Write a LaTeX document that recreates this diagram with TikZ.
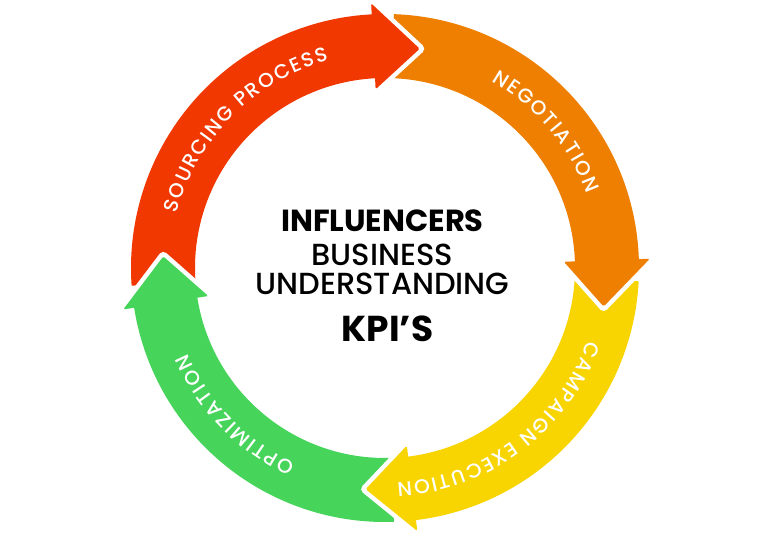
\documentclass[tikz,border=0pt]{standalone}
\usepackage{fontspec}
\setmainfont{Poppins}
\newfontfamily\kpimedium{Poppins}[UprightFont=* Medium]
\definecolor{cred}{RGB}{240,56,0}
\definecolor{corange}{RGB}{239,127,0}
\definecolor{cyellow}{RGB}{248,212,0}
\definecolor{cgreen}{RGB}{70,212,90}
\newcommand\kpiRo{254}
\newcommand\kpiRi{190}
\newcommand\kpiband[3]{\fill[#1] (#2:\kpiRo) arc[start angle=#2, end angle=#3, radius=\kpiRo] -- (#3:\kpiRi) arc[start angle=#3, end angle=#2, radius=\kpiRi] -- cycle;}
\newcommand\kpihead[3]{%
  \draw[white, line width=9, line join=round, line cap=round] (#2:265) -- (#3:222) -- (#2:179);
  \fill[#1, rounded corners=1.5] (#2:265) -- (#3:222) -- (#2:179) -- cycle;}
\newcommand\kpilblfont{\kpimedium\fontsize{20}{20}\selectfont}
\newdimen\kpiw
\newbox\kpibox
\def\kpiplus{+}
% measure a glyph width outside the picture, store it as a plain number
\newcommand\kpimeasure[2]{%
  \setbox\kpibox\hbox{\kpilblfont #2}\kpiw=\wd\kpibox
  \pgfmathsetmacro\kpitmpw{\kpiw}%
  \expandafter\xdef\csname kpiW#1\endcsname{\kpitmpw}}
% #1 centre angle, #2 baseline radius, #3 extra letter spacing, #4 letters (+ = space)
\newcommand\kpiarc[4]{%
  \xdef\kpitot{0}%
  \foreach \kpich in {#4}{%
    \expandafter\let\expandafter\kpicw\csname kpiW\kpich\endcsname
    \pgfmathsetmacro\kpitmp{\kpitot+\kpicw+#3}%
    \xdef\kpitot{\kpitmp}}%
  \pgfmathsetmacro\kpitmp{-(\kpitot-#3)/2}%
  \xdef\kpicur{\kpitmp}%
  \foreach \kpich in {#4}{%
    \expandafter\let\expandafter\kpicw\csname kpiW\kpich\endcsname
    \pgfmathsetmacro\kpimid{\kpicur+0.5*\kpicw}%
    \pgfmathsetmacro\kpiang{#1-(\kpimid)/#2*57.29578}%
    \ifx\kpich\kpiplus\else
      \node[arcletter, rotate=\kpiang-90] at (\kpiang:#2) {\kpich};
    \fi
    \pgfmathsetmacro\kpitmp{\kpicur+\kpicw+#3}%
    \xdef\kpicur{\kpitmp}}%
}
\tikzset{
  arcletter/.style={anchor=base, inner sep=0pt, text=white, font=\kpilblfont},
  centertext/.style={inner sep=0pt, text=black}
}
\begin{document}
\kpimeasure{A}{A}\kpimeasure{C}{C}\kpimeasure{E}{E}\kpimeasure{G}{G}%
\kpimeasure{I}{I}\kpimeasure{M}{M}\kpimeasure{N}{N}\kpimeasure{O}{O}%
\kpimeasure{P}{P}\kpimeasure{R}{R}\kpimeasure{S}{S}\kpimeasure{T}{T}%
\kpimeasure{U}{U}\kpimeasure{X}{X}\kpimeasure{Z}{Z}\kpimeasure{+}{\ }%
\begin{tikzpicture}[x=1pt,y=1pt]
\useasboundingbox (0,0) rectangle (768,540);
\fill[white] (0,0) rectangle (768,540);
\begin{scope}[shift={(385,272)}]
  \kpiband{cred}{184}{92}
  \kpiband{corange}{88}{1}
  \kpiband{cyellow}{-3}{-84}
  \kpiband{cgreen}{-88}{-172}
  \kpihead{cred}{93}{81}
  \kpihead{corange}{2}{-10}
  \kpihead{cyellow}{-83}{-95}
  \kpihead{cgreen}{-171}{-183}
  \kpiarc{135.2}{215}{1.7}{S,O,U,R,C,I,N,G,+,P,R,O,C,E,S,S}
  \kpiarc{40.3}{215}{1.7}{N,E,G,O,T,I,A,T,I,O,N}
  \kpiarc{-53.2}{215}{1.7}{C,A,M,P,A,I,G,N,+,E,X,E,C,U,T,I,O,N}
  \kpiarc{224.4}{215}{1.7}{O,P,T,I,M,I,Z,A,T,I,O,N}
\end{scope}
\node[centertext, font=\bfseries\fontsize{30.5}{30.5}\selectfont] (t1) at (382.5,319) {INFLUENCERS};
\node[centertext, font=\kpimedium\fontsize{30.5}{30.5}\selectfont] (t2) at (382.5,285) {BUSINESS};
\node[centertext, font=\kpimedium\fontsize{30.5}{30.5}\selectfont] (t3) at (382.5,256) {UNDERSTANDING};
\node[centertext, font=\bfseries\fontsize{36}{36}\selectfont] (t4) at (387.5,211) {KPI’S};
\end{tikzpicture}
\end{document}
